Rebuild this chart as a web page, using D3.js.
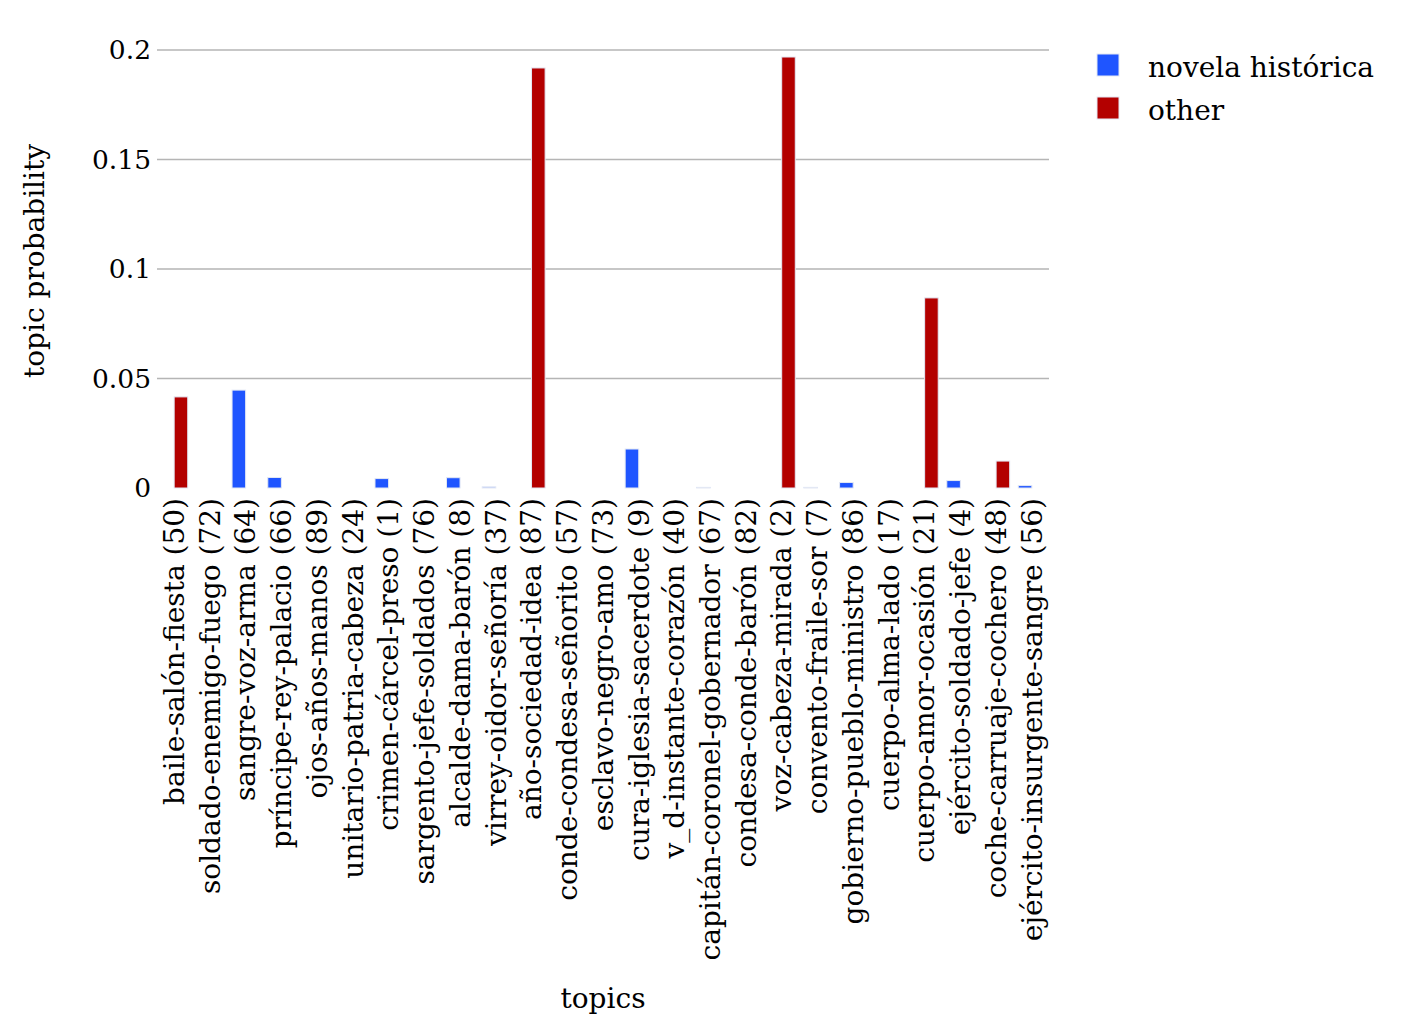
<!DOCTYPE html>
<html><head><meta charset="utf-8">
<script src="https://cdn.jsdelivr.net/npm/d3@7"></script>
<style>body{margin:0;background:#fff}text{font-family:"DejaVu Serif",serif;fill:#000}</style>
</head><body>
<script>
const categories = ["baile-salón-fiesta (50)","soldado-enemigo-fuego (72)","sangre-voz-arma (64)","príncipe-rey-palacio (66)","ojos-años-manos (89)","unitario-patria-cabeza (24)","crimen-cárcel-preso (1)","sargento-jefe-soldados (76)","alcalde-dama-barón (8)","virrey-oidor-señoría (37)","año-sociedad-idea (87)","conde-condesa-señorito (57)","esclavo-negro-amo (73)","cura-iglesia-sacerdote (9)","v_d-instante-corazón (40)","capitán-coronel-gobernador (67)","condesa-conde-barón (82)","voz-cabeza-mirada (2)","convento-fraile-sor (7)","gobierno-pueblo-ministro (86)","cuerpo-alma-lado (17)","cuerpo-amor-ocasión (21)","ejército-soldado-jefe (4)","coche-carruaje-cochero (48)","ejército-insurgente-sangre (56)"];
const seriesNames = ["novela histórica","other"];
const novelaHistorica = [0,0,0.0447,0.0048,0,0,0.0043,0,0.0047,0.0005,0,0,0,0.0178,0,0.0003,0,0,0.0003,0.0025,0,0,0.0034,0,0.0011];
const other = [0.0416,0,0,0,0,0,0,0,0,0,0.1918,0,0,0,0,0,0,0.1968,0,0,0,0.0868,0,0.0123,0];
const yTicks = [0,0.05,0.1,0.15,0.2];
const yTickLabels = ["0","0.05","0.1","0.15","0.2"];
const colors = ["#1f55ff","#b30000"];

const W=1408,H=1030;
const m={left:157,right:359,top:50,bottom:542};
const svg=d3.select("body").append("svg").attr("width",W).attr("height",H);
const x=d3.scaleBand().domain(categories).range([m.left,W-m.right]).paddingInner(0.24).paddingOuter(0.1);
const xs=d3.scaleBand().domain(seriesNames).range([0,x.bandwidth()]);
const y=d3.scaleLinear().domain([0,0.2]).range([H-m.bottom,m.top]);
const fs=28, tfs=26.5;

svg.append("g").selectAll("line").data(yTicks.filter(d=>d>0)).join("line")
 .attr("x1",m.left).attr("x2",W-m.right).attr("y1",d=>y(d)).attr("y2",d=>y(d))
 .attr("stroke","#b5b5b5").attr("stroke-width",1.6);
svg.append("g").selectAll("text").data(yTicks).join("text")
 .attr("x",m.left-6).attr("y",d=>y(d)).attr("dy","0.35em").attr("text-anchor","end")
 .style("font-size",tfs+"px").text((d,i)=>yTickLabels[i]);

const data=categories.map((c,i)=>({c,vals:[novelaHistorica[i],other[i]]}));
const g=svg.append("g").selectAll("g").data(data).join("g").attr("transform",d=>`translate(${x(d.c)},0)`);
g.selectAll("rect").data(d=>d.vals.map((v,j)=>({v,s:seriesNames[j],j}))).join("rect")
 .attr("x",d=>xs(d.s)).attr("width",xs.bandwidth())
 .attr("y",d=>y(d.v)).attr("height",d=>y(0)-y(d.v))
 .attr("fill",d=>colors[d.j]).attr("stroke","#e3e8f4").attr("stroke-width",1);

svg.append("g").selectAll("text").data(categories).join("text")
 .attr("transform",d=>`translate(${x(d)+x.bandwidth()/2},${y(0)+10}) rotate(-90)`)
 .attr("dy","0.35em").attr("text-anchor","end").style("font-size",fs+"px").text(d=>d);

svg.append("text").attr("x",(m.left+W-m.right)/2).attr("y",1008).attr("text-anchor","middle").style("font-size",fs+"px").text("topics");
svg.append("text").attr("transform",`translate(44,261) rotate(-90)`).attr("text-anchor","middle").style("font-size",fs+"px").text("topic probability");

const lg=svg.append("g").selectAll("g").data(seriesNames).join("g").attr("transform",(d,i)=>`translate(1097,${54+i*43})`);
lg.append("rect").attr("width",22).attr("height",22).attr("fill",(d,i)=>colors[i]).attr("stroke","#e3e8f4").attr("stroke-width",1);
lg.append("text").attr("x",51).attr("y",13).attr("dy","0.35em").style("font-size",fs+"px").text(d=>d);
</script>
</body></html>
